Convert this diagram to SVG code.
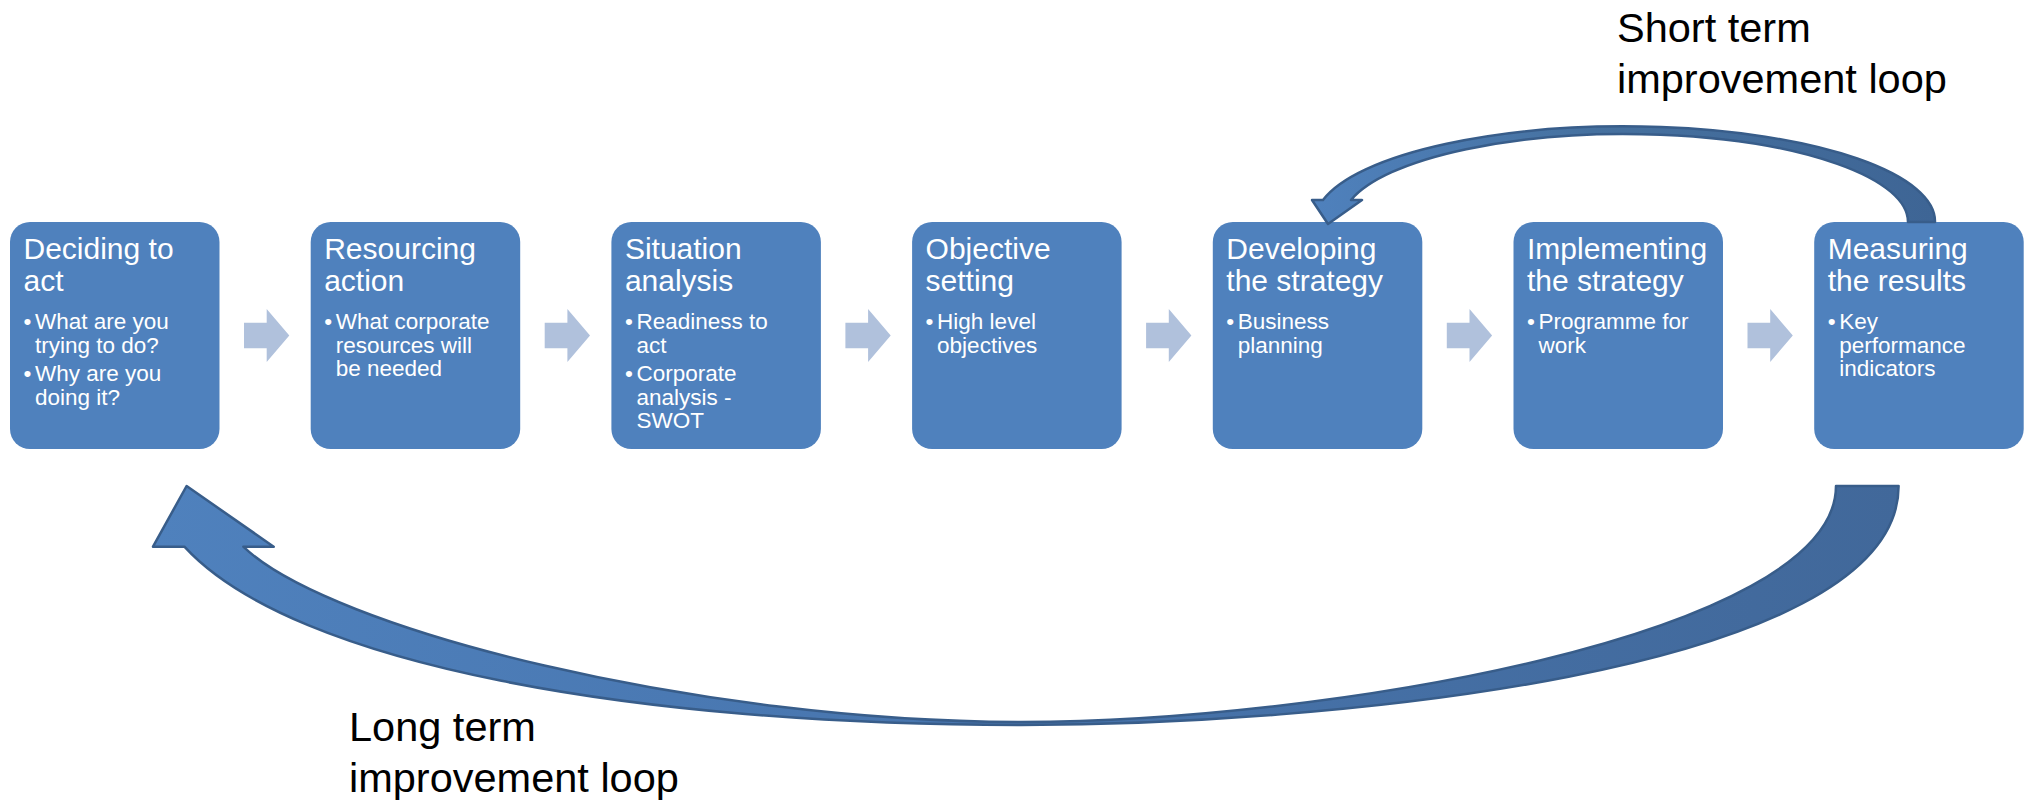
<svg xmlns="http://www.w3.org/2000/svg" width="2031" height="801" viewBox="0 0 2031 801">
  <style>
    .box { fill: #4F81BD; }
    .title { font-family: "Liberation Sans", Arial, sans-serif; font-size: 30px; fill: #FFFFFF; }
    .bullet { font-family: "Liberation Sans", Arial, sans-serif; font-size: 22.5px; fill: #FFFFFF; }
    .step { fill: #B0C1DC; }
    .loop { stroke: #385D8A; stroke-width: 2.5; stroke-linejoin: round; }
    .label { font-family: "Liberation Sans", Arial, sans-serif; font-size: 41.5px; fill: #000000; }
  </style>
  <defs>
    <linearGradient id="shortGrad" gradientUnits="userSpaceOnUse" x1="1310" y1="0" x2="1935" y2="0">
      <stop offset="0" stop-color="#4F81BD"/>
      <stop offset="0.45" stop-color="#46719F"/>
      <stop offset="1" stop-color="#3E6595"/>
    </linearGradient>
    <linearGradient id="longGrad" gradientUnits="userSpaceOnUse" x1="150" y1="0" x2="1900" y2="0">
      <stop offset="0" stop-color="#4F81BD"/>
      <stop offset="0.3" stop-color="#4A79B3"/>
      <stop offset="1" stop-color="#41689A"/>
    </linearGradient>
  </defs>

  <rect width="2031" height="801" fill="#FFFFFF"/>

  <!-- process steps -->
  <g id="node-deciding">
    <rect class="box" x="10" y="222" width="209.5" height="227" rx="20"/>
    <text class="title"><tspan x="23.5" y="259">Deciding to</tspan><tspan x="23.5" y="291">act</tspan></text>
    <text class="bullet"><tspan x="23.5" y="329">•</tspan><tspan x="35" y="329">What are you</tspan><tspan x="35" y="352.5">trying to do?</tspan><tspan x="23.5" y="381">•</tspan><tspan x="35" y="381">Why are you</tspan><tspan x="35" y="404.5">doing it?</tspan></text>
  </g>
  <g id="node-resourcing">
    <rect class="box" x="310.7" y="222" width="209.5" height="227" rx="20"/>
    <text class="title"><tspan x="324.2" y="259">Resourcing</tspan><tspan x="324.2" y="291">action</tspan></text>
    <text class="bullet"><tspan x="324.2" y="329">•</tspan><tspan x="335.7" y="329">What corporate</tspan><tspan x="335.7" y="352.5">resources will</tspan><tspan x="335.7" y="376">be needed</tspan></text>
  </g>
  <g id="node-situation">
    <rect class="box" x="611.4" y="222" width="209.5" height="227" rx="20"/>
    <text class="title"><tspan x="624.9" y="259">Situation</tspan><tspan x="624.9" y="291">analysis</tspan></text>
    <text class="bullet"><tspan x="624.9" y="329">•</tspan><tspan x="636.4" y="329">Readiness to</tspan><tspan x="636.4" y="352.5">act</tspan><tspan x="624.9" y="381">•</tspan><tspan x="636.4" y="381">Corporate</tspan><tspan x="636.4" y="404.5">analysis -</tspan><tspan x="636.4" y="428">SWOT</tspan></text>
  </g>
  <g id="node-objective">
    <rect class="box" x="912.1" y="222" width="209.5" height="227" rx="20"/>
    <text class="title"><tspan x="925.6" y="259">Objective</tspan><tspan x="925.6" y="291">setting</tspan></text>
    <text class="bullet"><tspan x="925.6" y="329">•</tspan><tspan x="937.1" y="329">High level</tspan><tspan x="937.1" y="352.5">objectives</tspan></text>
  </g>
  <g id="node-developing">
    <rect class="box" x="1212.8" y="222" width="209.5" height="227" rx="20"/>
    <text class="title"><tspan x="1226.3" y="259">Developing</tspan><tspan x="1226.3" y="291">the strategy</tspan></text>
    <text class="bullet"><tspan x="1226.3" y="329">•</tspan><tspan x="1237.8" y="329">Business</tspan><tspan x="1237.8" y="352.5">planning</tspan></text>
  </g>
  <g id="node-implementing">
    <rect class="box" x="1513.5" y="222" width="209.5" height="227" rx="20"/>
    <text class="title"><tspan x="1527" y="259">Implementing</tspan><tspan x="1527" y="291">the strategy</tspan></text>
    <text class="bullet"><tspan x="1527" y="329">•</tspan><tspan x="1538.5" y="329">Programme for</tspan><tspan x="1538.5" y="352.5">work</tspan></text>
  </g>
  <g id="node-measuring">
    <rect class="box" x="1814.2" y="222" width="209.5" height="227" rx="20"/>
    <text class="title"><tspan x="1827.7" y="259">Measuring</tspan><tspan x="1827.7" y="291">the results</tspan></text>
    <text class="bullet"><tspan x="1827.7" y="329">•</tspan><tspan x="1839.2" y="329">Key</tspan><tspan x="1839.2" y="352.5">performance</tspan><tspan x="1839.2" y="376">indicators</tspan></text>
  </g>

  <!-- connectors: step arrows and the two feedback loops -->
  <g id="connectors">
    <polygon class="step" points="244,322.7 266.7,322.7 266.7,309 289.3,335.5 266.7,362 266.7,348.3 244,348.3"/>
    <polygon class="step" points="544.7,322.7 567.4,322.7 567.4,309 590,335.5 567.4,362 567.4,348.3 544.7,348.3"/>
    <polygon class="step" points="845.4,322.7 868.1,322.7 868.1,309 890.7,335.5 868.1,362 868.1,348.3 845.4,348.3"/>
    <polygon class="step" points="1146.1,322.7 1168.8,322.7 1168.8,309 1191.4,335.5 1168.8,362 1168.8,348.3 1146.1,348.3"/>
    <polygon class="step" points="1446.8,322.7 1469.5,322.7 1469.5,309 1492.1,335.5 1469.5,362 1469.5,348.3 1446.8,348.3"/>
    <polygon class="step" points="1747.5,322.7 1770.2,322.7 1770.2,309 1792.8,335.5 1770.2,362 1770.2,348.3 1747.5,348.3"/>

    <!-- short term loop: Measuring -> Developing -->
    <path id="loop-short" class="loop" fill="url(#shortGrad)"
          d="M1935,222 A310,95 0 0 0 1323,200 L1312,200 L1328,224 L1362,200 L1351,200 A283,88 0 0 1 1908,222 Z"/>

    <!-- long term loop: Measuring -> Deciding -->
    <path id="loop-long" class="loop" fill="url(#longGrad)"
          d="M1898.6,486 C1898.6,676 1311,725 1021,725 C641,725 294.4,666.7 184.4,546.7 L153,546.7 L186.6,486 L273.7,546.7 L243.3,546.7 C330,630 700,722 1021,722 C1321,722 1836,636 1836,486 Z"/>
  </g>

  <g id="labels">
    <text class="label"><tspan x="1617" y="42">Short term</tspan><tspan x="1617" y="93">improvement loop</tspan></text>
    <text class="label"><tspan x="349" y="741">Long term</tspan><tspan x="349" y="792">improvement loop</tspan></text>
  </g>
</svg>
